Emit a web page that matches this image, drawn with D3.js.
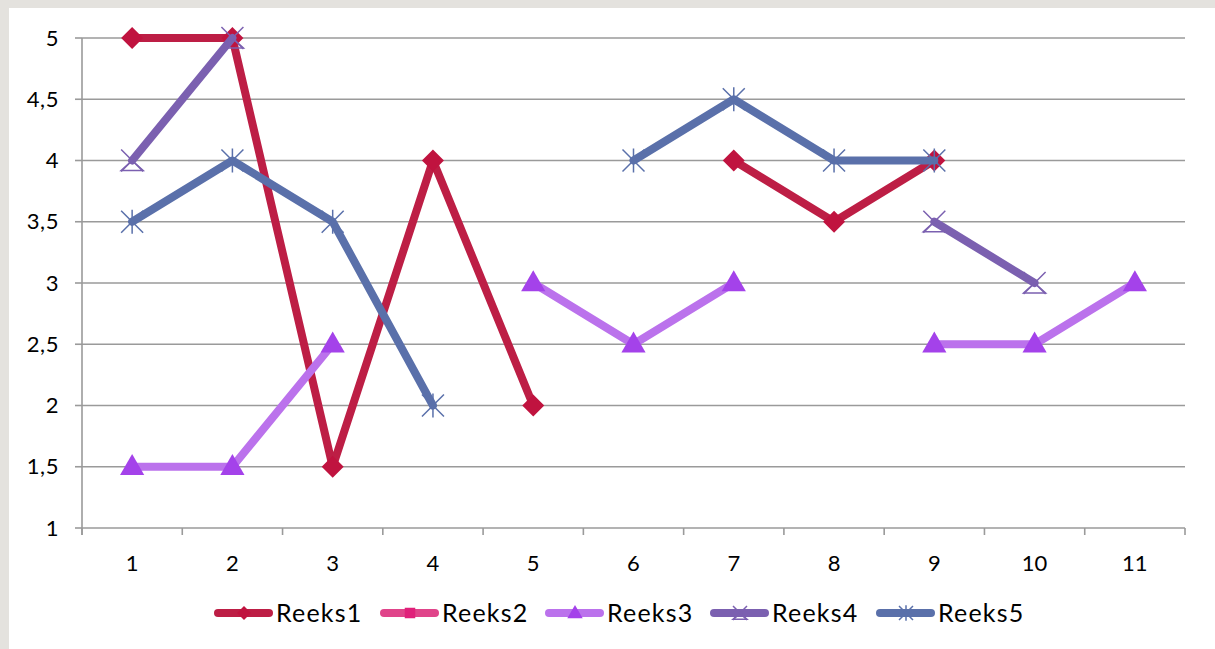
<!DOCTYPE html>
<html>
<head>
<meta charset="utf-8">
<script src="https://cdn.jsdelivr.net/npm/d3@7"></script>
<style>
  html, body { margin: 0; padding: 0; background: #e4e2de; }
  svg { display: block; }
</style>
</head>
<body>
<div id="chart"></div>
<script>
const categories = ['1', '2', '3', '4', '5', '6', '7', '8', '9', '10', '11'];
const seriesNames = ['Reeks1', 'Reeks2', 'Reeks3', 'Reeks4', 'Reeks5'];
const reeks1 = [5, 5, 1.5, 4, 2, null, 4, 3.5, 4, null, null];
const reeks2 = [null, null, null, null, null, null, null, null, null, null, null];
const reeks3 = [1.5, 1.5, 2.5, null, 3, 2.5, 3, null, 2.5, 2.5, 3];
const reeks4 = [4, 5, null, null, null, null, null, null, 3.5, 3, null];
const reeks5 = [3.5, 4, 3.5, 2, null, 4, 4.5, 4, 4, null, null];
const yTicks = [1, 1.5, 2, 2.5, 3, 3.5, 4, 4.5, 5];

const W = 1215, H = 649;
const fontFam = 'Lato, "Open Sans", sans-serif';

const series = [
  { name: seriesNames[0], values: reeks1, color: '#bd1e45', marker: 'diamond' },
  { name: seriesNames[1], values: reeks2, color: '#e0448a', marker: 'square' },
  { name: seriesNames[2], values: reeks3, color: '#bb72ec', marker: 'triangle' },
  { name: seriesNames[3], values: reeks4, color: '#7b60b0', marker: 'xtri' },
  { name: seriesNames[4], values: reeks5, color: '#5a70aa', marker: 'star' },
];
const markerFill = { diamond: '#c0133f', square: '#e0207a', triangle: '#a442ea' };

const svg = d3.select('#chart').append('svg').attr('width', W).attr('height', H);
svg.append('rect').attr('x', 9).attr('y', 8).attr('width', W - 9).attr('height', H - 8).attr('fill', '#fff');

const x = d3.scaleBand().domain(categories).range([82, 1185]).padding(0);
const y = d3.scaleLinear().domain([1, 5]).range([528, 38]);
const fmt = d3.formatLocale({ decimal: ',', thousands: '.', grouping: [3], currency: ['', ''] }).format('');
const cx = c => x(c) + x.bandwidth() / 2;

// gridlines
svg.append('g').selectAll('line').data(yTicks.slice(1)).join('line')
  .attr('x1', 82).attr('x2', 1185)
  .attr('y1', d => y(d)).attr('y2', d => y(d))
  .attr('stroke', '#9a9a9a').attr('stroke-width', 1.6);

// y axis
const yAxis = svg.append('g');
yAxis.append('line').attr('x1', 82).attr('x2', 82).attr('y1', y(5)).attr('y2', y(1) + 7)
  .attr('stroke', '#9a9a9a').attr('stroke-width', 1.6);
yAxis.selectAll('.tk').data(yTicks).join('line')
  .attr('x1', 75).attr('x2', 82).attr('y1', d => y(d)).attr('y2', d => y(d))
  .attr('stroke', '#9a9a9a').attr('stroke-width', 1.6);
yAxis.selectAll('text').data(yTicks).join('text')
  .attr('x', 59).attr('y', d => y(d)).attr('dy', '0.35em')
  .attr('text-anchor', 'end').attr('font-family', fontFam).attr('font-size', 22)
  .attr('letter-spacing', 0.6)
  .text(d => fmt(d));

// x axis
const xAxis = svg.append('g');
xAxis.append('line').attr('x1', 82).attr('x2', 1185).attr('y1', y(1)).attr('y2', y(1))
  .attr('stroke', '#9a9a9a').attr('stroke-width', 1.6);
xAxis.selectAll('.tk').data(categories.concat(['end'])).join('line')
  .attr('x1', d => d === 'end' ? 1185 : x(d)).attr('x2', d => d === 'end' ? 1185 : x(d))
  .attr('y1', y(1)).attr('y2', y(1) + 7)
  .attr('stroke', '#9a9a9a').attr('stroke-width', 1.6);
xAxis.selectAll('text').data(categories).join('text')
  .attr('x', d => cx(d)).attr('y', 571)
  .attr('text-anchor', 'middle').attr('font-family', fontFam).attr('font-size', 22)
  .text(d => d);

function drawMarker(g, type, color, px, py, r) {
  if (type === 'diamond') {
    g.append('path').attr('d', `M${px},${py - r}L${px + r},${py}L${px},${py + r}L${px - r},${py}Z`)
      .attr('fill', markerFill.diamond);
  } else if (type === 'square') {
    const h = r * 0.75;
    g.append('rect').attr('x', px - h).attr('y', py - h).attr('width', 2 * h).attr('height', 2 * h)
      .attr('fill', markerFill.square);
  } else if (type === 'triangle') {
    g.append('path').attr('d', `M${px},${py - r * 1.15}L${px + r * 1.1},${py + r * 0.75}L${px - r * 1.1},${py + r * 0.75}Z`)
      .attr('fill', markerFill.triangle);
  } else if (type === 'xtri') {
    g.append('path').attr('d', `M${px},${py}L${px + r},${py + r * 0.9}L${px - r},${py + r * 0.9}Z`)
      .attr('fill', 'none').attr('stroke', color).attr('stroke-width', 1.5);
    g.append('path').attr('d', `M${px - r},${py - r}L${px + r},${py + r}M${px + r},${py - r}L${px - r},${py + r}`)
      .attr('stroke', color).attr('stroke-width', 1.5);
  } else if (type === 'star') {
    g.append('path').attr('d', `M${px - r},${py - r}L${px + r},${py + r}M${px + r},${py - r}L${px - r},${py + r}M${px},${py - r * 1.1}L${px},${py + r * 1.1}`)
      .attr('stroke', color).attr('stroke-width', 1.5);
  }
}

const lineFn = d3.line()
  .defined(d => d.v != null)
  .x(d => cx(d.c))
  .y(d => y(d.v));

series.forEach(s => {
  const pts = s.values.map((v, i) => ({ c: categories[i], v }));
  const g = svg.append('g').attr('class', 'series');
  g.append('path').attr('d', lineFn(pts))
    .attr('fill', 'none').attr('stroke', s.color).attr('stroke-width', 8)
    .attr('stroke-linejoin', 'round').attr('stroke-linecap', 'round');
  pts.filter(d => d.v != null).forEach(d => drawMarker(g, s.marker, s.color, cx(d.c), y(d.v), 11));
});

// legend
const legendStarts = [214, 380, 545, 710, 876];
const legend = svg.append('g');
series.forEach((s, i) => {
  const lx = legendStarts[i], ly = 613;
  const g = legend.append('g');
  g.append('line').attr('x1', lx + 4).attr('x2', lx + 55).attr('y1', ly).attr('y2', ly)
    .attr('stroke', s.color).attr('stroke-width', 8).attr('stroke-linecap', 'round');
  drawMarker(g, s.marker, s.color, lx + 30, ly, 7);
  g.append('text').attr('x', lx + 62).attr('y', ly).attr('dy', '0.35em')
    .attr('font-family', fontFam).attr('font-size', 25).attr('letter-spacing', 1.2).text(s.name);
});
</script>
</body>
</html>
